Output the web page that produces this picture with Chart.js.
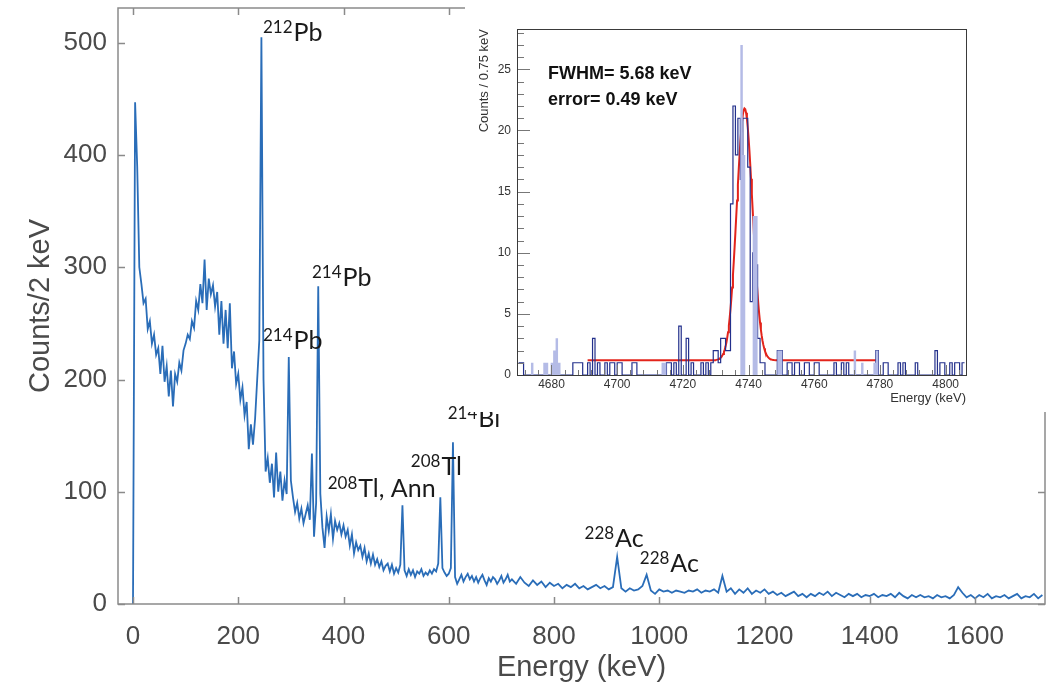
<!DOCTYPE html>
<html>
<head>
<meta charset="utf-8">
<script src="https://cdn.jsdelivr.net/npm/chart.js@4/dist/chart.umd.min.js"></script>
<style>
  html, body { margin: 0; padding: 0; background: #fff; }
  #wrap { position: relative; width: 1056px; height: 689px; overflow: hidden; background: #fff; }
  #main { position: absolute; left: 0; top: 0; }
  #inset { position: absolute; left: 465px; top: 0; }
</style>
</head>
<body>
<div id="wrap">
  <canvas id="main" width="1056" height="689"></canvas>
  <canvas id="inset" width="591" height="412"></canvas>
</div>
<script>
// ---------------- Gamma spectrum (counts per 2 keV) ----------------
// Low-energy part: one value every 4 keV starting at 0 keV
const lowStartKeV = 0;
const lowStepKeV = 4;
const lowCounts = [
  0, 447, 390, 300, 285, 268, 272, 245, 252, 232,
  240, 222, 228, 205, 230, 198, 212, 185, 208, 176,
  205, 198, 215, 208, 226, 232, 240, 236, 252, 246,
  270, 262, 285, 268, 307, 262, 290, 276, 284, 265,
  278, 240, 270, 232, 262, 228, 268, 210, 225, 196,
  205, 182, 193, 168, 180, 138, 160, 142, 165, 200,
  235, 505, 200, 118, 130, 108, 125, 95, 135, 100,
  118, 92, 110, 98, 220, 110, 95, 82, 90, 76,
  85, 72, 80, 88, 75, 134, 60, 90, 283, 98,
  68, 50, 78, 65, 80, 58, 74, 66, 72, 62,
  70, 60, 66, 52, 62, 45, 55, 48, 52, 42,
  50, 38, 45, 36, 44, 35, 40, 33, 38, 30,
  34, 36, 29, 35, 27, 32, 28, 35, 88, 30,
  25, 31, 26, 30, 24, 29, 27, 31, 25, 28,
  26, 30, 27, 31, 29, 36, 95, 32, 28, 25,
  27, 32, 144, 24, 18, 22, 26, 20, 24, 27,
  22, 25, 20, 24, 19, 23, 26, 21, 17, 23,
  20, 24, 22, 18, 21, 25, 19, 22, 26, 20
];
// High-energy part: one value every 8 keV starting at 720 keV
const highStartKeV = 720;
const highStepKeV = 8;
const highCounts = [
  22, 18, 24, 19, 16, 21, 17, 20, 15, 19,
  16, 18, 14, 17, 15, 18, 14, 16, 13, 15,
  17, 14, 16, 13, 15, 42, 14, 11, 14, 12,
  13, 16, 26, 12, 9, 13, 11, 12, 10, 12,
  11, 10, 12, 11, 13, 10, 12, 11, 13, 10,
  25, 11, 14, 9, 13, 10, 14, 9, 12, 10,
  13, 9, 11, 8, 10, 7, 9, 11, 7, 9,
  6, 9, 7, 10, 8, 11, 7, 10, 8, 6,
  9, 7, 9, 6, 8, 7, 9, 6, 8, 7,
  9, 6, 10, 7, 5, 8, 6, 8, 6, 7,
  5, 8, 6, 7, 5, 8, 15, 10, 6, 8,
  5, 8, 6, 9, 5, 7, 6, 8, 5, 7,
  9, 5, 7, 6, 9, 5, 8
];
const energyTicks = [0, 200, 400, 600, 800, 1000, 1200, 1400, 1600];
const countTicks = [0, 100, 200, 300, 400, 500];

// Peak identifications
const peakMass = ['212', '214', '214', '208', '208', '214', '228', '228'];
const peakElement = ['Pb', 'Pb', 'Pb', 'Tl, Ann', 'Tl', 'Bi', 'Ac', 'Ac'];

// ---------------- Inset: alpha peak, 0.75 keV bins from 4670 keV ----------------
const insetStartKeV = 4670;
const insetBinKeV = 0.75;
const insetCounts = [
  1, 1, 0, 0, 0, 0, 0, 0, 0, 0,
  0, 0, 0, 0, 0, 0, 0, 0, 0, 0,
  0, 0, 1, 1, 1, 1, 0, 0, 1, 0,
  3, 0, 1, 0, 0, 1, 0, 1, 1, 0,
  1, 1, 0, 0, 0, 0, 1, 1, 0, 0,
  0, 0, 0, 0, 0, 0, 0, 0, 0, 0,
  1, 1, 0, 1, 0, 4, 0, 0, 3, 0,
  1, 0, 0, 0, 1, 0, 1, 0, 1, 2,
  2, 1, 3, 3, 2, 2, 14, 22, 18, 21,
  16, 21, 21, 17, 6, 10, 9, 3, 1, 1,
  0, 0, 0, 0, 0, 2, 2, 0, 0, 1,
  1, 0, 1, 1, 0, 0, 1, 1, 0, 0,
  1, 1, 0, 0, 0, 0, 0, 0, 1, 0,
  0, 1, 0, 1, 0, 0, 0, 0, 0, 0,
  0, 0, 0, 0, 0, 2, 0, 0, 1, 1,
  0, 0, 0, 0, 1, 0, 1, 0, 0, 0,
  0, 1, 0, 0, 0, 0, 0, 0, 0, 2,
  0, 1, 1, 0, 0, 1, 0, 1, 1, 0,
  1
];
const insetFilledCounts = [
  0, 0, 0, 0, 0, 1, 0, 0, 0, 0,
  1, 1, 0, 1, 2, 3, 1, 0, 0, 0,
  0, 0, 0, 0, 0, 0, 0, 0, 0, 0,
  0, 0, 0, 0, 0, 0, 0, 0, 0, 0,
  0, 0, 0, 0, 0, 0, 0, 0, 0, 0,
  0, 0, 0, 0, 0, 0, 0, 0, 1, 1,
  0, 0, 0, 0, 0, 0, 0, 0, 0, 0,
  0, 0, 0, 0, 0, 0, 0, 0, 0, 0,
  0, 0, 0, 0, 0, 0, 0, 0, 0, 0,
  27, 18, 0, 0, 0, 13, 13, 0, 0, 0,
  0, 0, 0, 0, 0, 2, 2, 0, 0, 0,
  0, 0, 0, 0, 0, 0, 0, 0, 0, 0,
  0, 0, 0, 0, 0, 0, 0, 0, 0, 0,
  0, 0, 0, 0, 0, 0, 2, 0, 0, 1,
  0, 0, 0, 0, 1, 2, 0, 0, 0, 0,
  0, 0, 0, 0, 0, 0, 0, 0, 0, 0,
  0, 0, 0, 0, 0, 0, 0, 0, 0, 0,
  0, 0, 0, 0, 0, 0, 0, 0, 0, 0,
  0
];
const insetEnergyTicks = [4680, 4700, 4720, 4740, 4760, 4780, 4800];
const insetCountTicks = [0, 5, 10, 15, 20, 25];

// Gaussian + flat background fit
const fitFwhmKeV = 5.68;
const fitErrorKeV = 0.49;
const fitMeanKeV = 4738.8;
const fitAmplitude = 20.6;
const fitBackground = 1.2;
const fitFromKeV = 4691;
const fitToKeV = 4779;

// ---------------- build point lists ----------------
const spectrum = [];
lowCounts.forEach((c, i) => spectrum.push({ x: lowStartKeV + i * lowStepKeV, y: c }));
highCounts.forEach((c, i) => spectrum.push({ x: highStartKeV + i * highStepKeV, y: c }));

function histPoints(counts) {
  const pts = counts.map((c, i) => ({ x: insetStartKeV + i * insetBinKeV, y: c }));
  pts.push({ x: insetStartKeV + counts.length * insetBinKeV, y: counts[counts.length - 1] });
  return pts;
}
const fitSigma = fitFwhmKeV / (2 * Math.sqrt(2 * Math.log(2)));
const fitCurve = [];
for (let e = fitFromKeV; e <= fitToKeV + 1e-9; e += 0.25) {
  const d = (e - fitMeanKeV) / fitSigma;
  fitCurve.push({ x: e, y: fitBackground + fitAmplitude * Math.exp(-0.5 * d * d) });
}

// scale helpers: fixed tick lists, plain number labels, no automatic edge padding
function fixedTicks(list) {
  return s => { s.ticks = list.map(v => ({ value: v })); };
}
function fixedSize(prop, size) {
  return s => {
    s[prop] = size;
    s.paddingTop = 0; s.paddingBottom = 0; s.paddingLeft = 0; s.paddingRight = 0;
  };
}
const plainNumber = v => String(v);

// ---------------- main chart ----------------
const AXIS_FONT = '"Liberation Sans", Arial, Helvetica, sans-serif';
const LABEL_FONT = 'Lato, "Open Sans", sans-serif';
const frameGrey = '#8a8a8a';
const textGrey = '#4a4a4a';

const isotopeAnchors = [
  { e: 247, c: 502 }, { e: 340, c: 283 }, { e: 247, c: 227 }, { e: 370, c: 95 },
  { e: 528, c: 115 }, { e: 598, c: 158 }, { e: 858, c: 51 }, { e: 963, c: 28.5 }
];

const mainDecor = {
  id: 'mainDecor',
  afterDraw(chart) {
    const { ctx, chartArea: a, scales: { x, y } } = chart;
    ctx.save();
    ctx.strokeStyle = frameGrey;
    ctx.lineWidth = 1.5;
    ctx.strokeRect(a.left, a.top, a.right - a.left, a.bottom - a.top);
    ctx.beginPath();
    energyTicks.forEach(v => {
      const px = Math.round(x.getPixelForValue(v)) + 0.5;
      ctx.moveTo(px, a.bottom); ctx.lineTo(px, a.bottom - 7);
      ctx.moveTo(px, a.top); ctx.lineTo(px, a.top + 7);
    });
    countTicks.forEach(v => {
      const py = Math.round(y.getPixelForValue(v)) + 0.5;
      ctx.moveTo(a.left, py); ctx.lineTo(a.left + 7, py);
      ctx.moveTo(a.right, py); ctx.lineTo(a.right - 7, py);
    });
    ctx.stroke();

    // axis titles
    ctx.fillStyle = textGrey;
    ctx.font = '29px ' + AXIS_FONT;
    ctx.textAlign = 'center';
    ctx.textBaseline = 'middle';
    ctx.fillText('Energy (keV)', (a.left + a.right) / 2, 668);
    ctx.save();
    ctx.translate(41, (a.top + a.bottom) / 2);
    ctx.rotate(-Math.PI / 2);
    ctx.fillText('Counts/2 keV', 0, 0);
    ctx.restore();

    // isotope labels
    ctx.fillStyle = '#1a1a1a';
    ctx.textAlign = 'left';
    ctx.textBaseline = 'alphabetic';
    isotopeAnchors.forEach((p, i) => {
      const px = x.getPixelForValue(p.e);
      const py = y.getPixelForValue(p.c);
      ctx.font = '17px ' + LABEL_FONT;
      ctx.fillText(peakMass[i], px, py - 8);
      const w = ctx.measureText(peakMass[i]).width;
      ctx.font = '25px ' + LABEL_FONT;
      ctx.fillText(peakElement[i], px + w + 1, py);
    });
    ctx.restore();
  }
};

new Chart(document.getElementById('main'), {
  type: 'line',
  data: {
    datasets: [{
      data: spectrum,
      borderColor: '#2a6db8',
      borderWidth: 1.8,
      pointRadius: 0,
      tension: 0,
      fill: false
    }]
  },
  options: {
    responsive: false,
    animation: false,
    devicePixelRatio: 1,
    layout: { padding: { top: 8, right: 11, left: 0, bottom: 0 } },
    plugins: { legend: { display: false }, tooltip: { enabled: false } },
    scales: {
      x: {
        type: 'linear',
        min: -28.5,
        max: 1733,
        afterBuildTicks: fixedTicks(energyTicks),
        afterFit: fixedSize('height', 85),
        grid: { display: false, drawTicks: false },
        border: { display: false },
        ticks: { color: textGrey, font: { family: AXIS_FONT, size: 26 }, padding: 17, maxRotation: 0, callback: plainNumber }
      },
      y: {
        type: 'linear',
        min: 0,
        max: 531,
        afterBuildTicks: fixedTicks(countTicks),
        afterFit: fixedSize('width', 118),
        grid: { display: false, drawTicks: false },
        border: { display: false },
        ticks: { color: textGrey, font: { family: AXIS_FONT, size: 26 }, padding: 11, callback: plainNumber }
      }
    }
  },
  plugins: [mainDecor]
});

// ---------------- inset chart ----------------
const insetDecor = {
  id: 'insetDecor',
  beforeDraw(chart) {
    const { ctx, width, height } = chart;
    ctx.save();
    ctx.fillStyle = '#fff';
    ctx.fillRect(0, 0, width, height);
    ctx.restore();
  },
  afterDraw(chart) {
    const { ctx, chartArea: a, scales: { x, y } } = chart;
    ctx.save();
    // ticks
    ctx.strokeStyle = '#777';
    ctx.lineWidth = 1;
    ctx.beginPath();
    for (let v = 0; v <= 28; v++) {
      const py = Math.round(y.getPixelForValue(v)) + 0.5;
      const len = v % 5 === 0 ? 13 : 7;
      ctx.moveTo(a.left, py); ctx.lineTo(a.left + len, py);
    }
    for (let v = 4672; v <= 4804; v += 4) {
      const px = Math.round(x.getPixelForValue(v)) + 0.5;
      const len = v % 20 === 0 ? 10 : 5;
      ctx.moveTo(px, a.bottom); ctx.lineTo(px, a.bottom - len);
    }
    ctx.stroke();
    // frame
    ctx.strokeStyle = '#3a3a3a';
    ctx.lineWidth = 1;
    ctx.strokeRect(Math.round(a.left) + 0.5, Math.round(a.top) + 0.5, Math.round(a.right - a.left), Math.round(a.bottom - a.top));
    // axis titles
    ctx.fillStyle = '#333';
    ctx.font = '13px ' + AXIS_FONT;
    ctx.textAlign = 'right';
    ctx.textBaseline = 'middle';
    ctx.fillText('Energy (keV)', a.right, 398);
    ctx.save();
    ctx.translate(19, a.top);
    ctx.rotate(-Math.PI / 2);
    ctx.textAlign = 'right';
    ctx.fillText('Counts / 0.75 keV', 0, 0);
    ctx.restore();
    // fit result
    ctx.fillStyle = '#111';
    ctx.font = 'bold 18px ' + AXIS_FONT;
    ctx.textAlign = 'left';
    ctx.textBaseline = 'alphabetic';
    ctx.fillText('FWHM= ' + fitFwhmKeV.toFixed(2) + ' keV', 83, 79);
    ctx.fillText('error= ' + fitErrorKeV.toFixed(2) + ' keV', 83, 105);
    ctx.restore();
  }
};

new Chart(document.getElementById('inset'), {
  type: 'line',
  data: {
    datasets: [
      {
        data: histPoints(insetFilledCounts),
        stepped: 'before',
        borderWidth: 0,
        borderColor: 'rgba(0,0,0,0)',
        backgroundColor: '#b4bbe6',
        fill: 'origin',
        pointRadius: 0
      },
      {
        data: histPoints(insetCounts),
        stepped: 'before',
        borderColor: '#23308c',
        borderWidth: 1.2,
        fill: false,
        pointRadius: 0
      },
      {
        data: fitCurve,
        borderColor: '#e3241b',
        borderWidth: 2,
        fill: false,
        pointRadius: 0,
        tension: 0
      }
    ]
  },
  options: {
    responsive: false,
    animation: false,
    devicePixelRatio: 1,
    layout: { padding: { top: 29, right: 90, left: 0, bottom: 0 } },
    plugins: { legend: { display: false }, tooltip: { enabled: false } },
    scales: {
      x: {
        type: 'linear',
        min: 4669.5,
        max: 4806.2,
        afterBuildTicks: fixedTicks(insetEnergyTicks),
        afterFit: fixedSize('height', 37),
        grid: { display: false, drawTicks: false },
        border: { display: false },
        ticks: { color: '#333', font: { family: AXIS_FONT, size: 12 }, padding: 2, maxRotation: 0, callback: plainNumber }
      },
      y: {
        type: 'linear',
        min: 0,
        max: 28.3,
        afterBuildTicks: fixedTicks(insetCountTicks),
        afterFit: fixedSize('width', 52),
        grid: { display: false, drawTicks: false },
        border: { display: false },
        ticks: { color: '#333', font: { family: AXIS_FONT, size: 12 }, padding: 6, callback: plainNumber }
      }
    }
  },
  plugins: [insetDecor]
});
</script>
</body>
</html>
